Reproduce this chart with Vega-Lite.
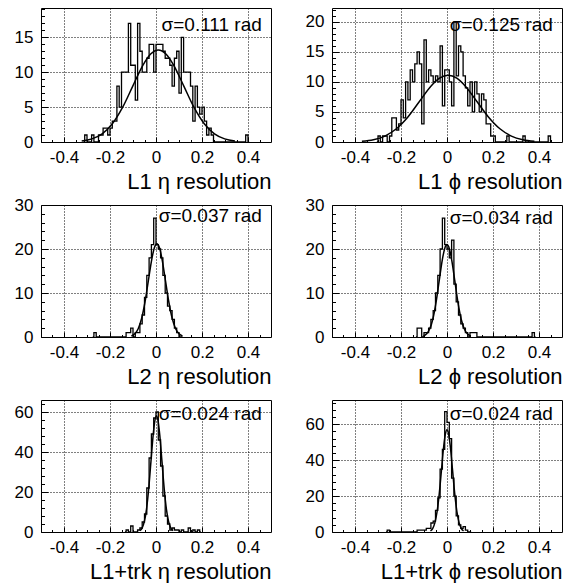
{
"$schema":"https://vega.github.io/schema/vega-lite/v6.json",
"background":"white",
"padding":{"left":13,"top":7,"right":0,"bottom":0},
"bounds":"flush",
"columns":2,
"spacing":{"row":63,"column":61},
"config":{"font":"Liberation Sans","view":{"stroke":"black","strokeWidth":1},
"axis":{"labelFont":"Liberation Sans","titleFont":"Liberation Sans","labelColor":"black","titleColor":"black","tickColor":"black","tickWidth":1,"gridColor":"black","gridOpacity":1,"gridDash":[1,2],"gridWidth":1,"labelFlush":false,"labelOverlap":false,"domain":false}},
"datasets":{
"h1":[{"x":-0.315,"n":0},{"x":-0.305,"n":1},{"x":-0.295,"n":0},{"x":-0.285,"n":0},{"x":-0.275,"n":1},{"x":-0.265,"n":0},{"x":-0.255,"n":0},{"x":-0.245,"n":1},{"x":-0.235,"n":1},{"x":-0.225,"n":2},{"x":-0.215,"n":2},{"x":-0.205,"n":1},{"x":-0.195,"n":2},{"x":-0.185,"n":3},{"x":-0.175,"n":3},{"x":-0.165,"n":8},{"x":-0.155,"n":5},{"x":-0.145,"n":10},{"x":-0.135,"n":10},{"x":-0.125,"n":10},{"x":-0.115,"n":17},{"x":-0.105,"n":11},{"x":-0.095,"n":11},{"x":-0.085,"n":6},{"x":-0.075,"n":17},{"x":-0.065,"n":13},{"x":-0.055,"n":10},{"x":-0.045,"n":10},{"x":-0.035,"n":12},{"x":-0.025,"n":14},{"x":-0.015,"n":14},{"x":-0.005,"n":10},{"x":0.005,"n":14},{"x":0.015,"n":14},{"x":0.025,"n":14},{"x":0.035,"n":13},{"x":0.045,"n":12},{"x":0.055,"n":12},{"x":0.065,"n":11},{"x":0.075,"n":8},{"x":0.085,"n":12},{"x":0.095,"n":13},{"x":0.105,"n":7},{"x":0.115,"n":15},{"x":0.125,"n":10},{"x":0.135,"n":10},{"x":0.145,"n":10},{"x":0.155,"n":8},{"x":0.165,"n":3},{"x":0.175,"n":8},{"x":0.185,"n":5},{"x":0.195,"n":4},{"x":0.205,"n":5},{"x":0.215,"n":3},{"x":0.225,"n":1},{"x":0.235,"n":2},{"x":0.245,"n":1},{"x":0.255,"n":0},{"x":0.265,"n":0},{"x":0.275,"n":0},{"x":0.285,"n":0},{"x":0.295,"n":0},{"x":0.305,"n":0},{"x":0.315,"n":0},{"x":0.325,"n":0},{"x":0.335,"n":0},{"x":0.345,"n":0},{"x":0.355,"n":0},{"x":0.365,"n":0},{"x":0.375,"n":0},{"x":0.385,"n":0},{"x":0.395,"n":1},{"x":0.405,"n":0}],
"h2":[{"x":-0.305,"n":0},{"x":-0.295,"n":1},{"x":-0.285,"n":0},{"x":-0.275,"n":1},{"x":-0.265,"n":1},{"x":-0.255,"n":0},{"x":-0.245,"n":1},{"x":-0.235,"n":4},{"x":-0.225,"n":4},{"x":-0.215,"n":2},{"x":-0.205,"n":3},{"x":-0.195,"n":7},{"x":-0.185,"n":4},{"x":-0.175,"n":10},{"x":-0.165,"n":7},{"x":-0.155,"n":12},{"x":-0.145,"n":10},{"x":-0.135,"n":13},{"x":-0.125,"n":15},{"x":-0.115,"n":13},{"x":-0.105,"n":3},{"x":-0.095,"n":17},{"x":-0.085,"n":10},{"x":-0.075,"n":12},{"x":-0.065,"n":11},{"x":-0.055,"n":10},{"x":-0.045,"n":11},{"x":-0.035,"n":10},{"x":-0.025,"n":16},{"x":-0.015,"n":6},{"x":-0.005,"n":12},{"x":0.005,"n":12},{"x":0.015,"n":10},{"x":0.025,"n":6},{"x":0.035,"n":20},{"x":0.045,"n":11},{"x":0.055,"n":16},{"x":0.065,"n":15},{"x":0.075,"n":11},{"x":0.085,"n":9},{"x":0.095,"n":6},{"x":0.105,"n":10},{"x":0.115,"n":5},{"x":0.125,"n":10},{"x":0.135,"n":8},{"x":0.145,"n":5},{"x":0.155,"n":8},{"x":0.165,"n":7},{"x":0.175,"n":3},{"x":0.185,"n":3},{"x":0.195,"n":1},{"x":0.205,"n":1},{"x":0.215,"n":0},{"x":0.225,"n":0},{"x":0.235,"n":0},{"x":0.245,"n":0},{"x":0.255,"n":0},{"x":0.265,"n":1},{"x":0.275,"n":0},{"x":0.285,"n":0},{"x":0.295,"n":0},{"x":0.305,"n":0},{"x":0.315,"n":0},{"x":0.325,"n":0},{"x":0.335,"n":1},{"x":0.345,"n":0},{"x":0.355,"n":0},{"x":0.365,"n":0},{"x":0.375,"n":0},{"x":0.385,"n":0},{"x":0.395,"n":0},{"x":0.405,"n":0},{"x":0.415,"n":0},{"x":0.425,"n":0},{"x":0.435,"n":0},{"x":0.445,"n":1},{"x":0.455,"n":0}],
"h3":[{"x":-0.275,"n":0},{"x":-0.265,"n":1},{"x":-0.255,"n":0},{"x":-0.245,"n":0},{"x":-0.235,"n":0},{"x":-0.225,"n":0},{"x":-0.215,"n":0},{"x":-0.205,"n":0},{"x":-0.195,"n":0},{"x":-0.185,"n":0},{"x":-0.175,"n":0},{"x":-0.165,"n":0},{"x":-0.155,"n":0},{"x":-0.145,"n":0},{"x":-0.135,"n":0},{"x":-0.125,"n":1},{"x":-0.115,"n":1},{"x":-0.105,"n":2},{"x":-0.095,"n":0},{"x":-0.085,"n":1},{"x":-0.075,"n":1},{"x":-0.065,"n":3},{"x":-0.055,"n":5},{"x":-0.045,"n":9},{"x":-0.035,"n":14},{"x":-0.025,"n":18},{"x":-0.015,"n":21},{"x":-0.005,"n":27},{"x":0.005,"n":21},{"x":0.015,"n":20},{"x":0.025,"n":18},{"x":0.035,"n":14},{"x":0.045,"n":10},{"x":0.055,"n":7},{"x":0.065,"n":6},{"x":0.075,"n":4},{"x":0.085,"n":2},{"x":0.095,"n":1},{"x":0.105,"n":0},{"x":0.115,"n":0}],
"h4":[{"x":-0.135,"n":0},{"x":-0.125,"n":2},{"x":-0.115,"n":2},{"x":-0.105,"n":0},{"x":-0.095,"n":1},{"x":-0.085,"n":1},{"x":-0.075,"n":2},{"x":-0.065,"n":4},{"x":-0.055,"n":6},{"x":-0.045,"n":10},{"x":-0.035,"n":14},{"x":-0.025,"n":20},{"x":-0.015,"n":27},{"x":-0.005,"n":21},{"x":0.005,"n":20},{"x":0.015,"n":18},{"x":0.025,"n":22},{"x":0.035,"n":12},{"x":0.045,"n":8},{"x":0.055,"n":5},{"x":0.065,"n":3},{"x":0.075,"n":2},{"x":0.085,"n":1},{"x":0.095,"n":0},{"x":0.105,"n":1},{"x":0.115,"n":1},{"x":0.125,"n":1},{"x":0.135,"n":0},{"x":0.145,"n":0},{"x":0.155,"n":0},{"x":0.165,"n":0},{"x":0.175,"n":0},{"x":0.185,"n":0},{"x":0.195,"n":0},{"x":0.205,"n":0},{"x":0.215,"n":0},{"x":0.225,"n":0},{"x":0.235,"n":0},{"x":0.245,"n":0},{"x":0.255,"n":0},{"x":0.265,"n":0},{"x":0.275,"n":0},{"x":0.285,"n":0},{"x":0.295,"n":0},{"x":0.305,"n":0},{"x":0.315,"n":0},{"x":0.325,"n":0},{"x":0.335,"n":0},{"x":0.345,"n":0},{"x":0.355,"n":0},{"x":0.365,"n":0},{"x":0.375,"n":1},{"x":0.385,"n":0}],
"h5":[{"x":-0.135,"n":0},{"x":-0.125,"n":1},{"x":-0.115,"n":0},{"x":-0.105,"n":3},{"x":-0.095,"n":0},{"x":-0.085,"n":0},{"x":-0.075,"n":1},{"x":-0.065,"n":2},{"x":-0.055,"n":5},{"x":-0.045,"n":9},{"x":-0.035,"n":22},{"x":-0.025,"n":37},{"x":-0.015,"n":49},{"x":-0.005,"n":57},{"x":0.005,"n":60},{"x":0.015,"n":46},{"x":0.025,"n":33},{"x":0.035,"n":18},{"x":0.045,"n":8},{"x":0.055,"n":4},{"x":0.065,"n":1},{"x":0.075,"n":2},{"x":0.085,"n":1},{"x":0.095,"n":1},{"x":0.105,"n":0},{"x":0.115,"n":1},{"x":0.125,"n":0},{"x":0.135,"n":0},{"x":0.145,"n":2},{"x":0.155,"n":0},{"x":0.165,"n":1},{"x":0.175,"n":0},{"x":0.185,"n":1},{"x":0.195,"n":0}],
"h6":[{"x":-0.265,"n":0},{"x":-0.255,"n":1},{"x":-0.245,"n":0},{"x":-0.235,"n":0},{"x":-0.225,"n":0},{"x":-0.215,"n":0},{"x":-0.205,"n":0},{"x":-0.195,"n":0},{"x":-0.185,"n":0},{"x":-0.175,"n":0},{"x":-0.165,"n":0},{"x":-0.155,"n":0},{"x":-0.145,"n":0},{"x":-0.135,"n":0},{"x":-0.125,"n":1},{"x":-0.115,"n":1},{"x":-0.105,"n":1},{"x":-0.095,"n":1},{"x":-0.085,"n":2},{"x":-0.075,"n":2},{"x":-0.065,"n":5},{"x":-0.055,"n":6},{"x":-0.045,"n":12},{"x":-0.035,"n":19},{"x":-0.025,"n":35},{"x":-0.015,"n":46},{"x":-0.005,"n":67},{"x":0.005,"n":61},{"x":0.015,"n":52},{"x":0.025,"n":30},{"x":0.035,"n":20},{"x":0.045,"n":9},{"x":0.055,"n":4},{"x":0.065,"n":2},{"x":0.075,"n":3},{"x":0.085,"n":1},{"x":0.095,"n":0},{"x":0.105,"n":0}],
"f1":[{"x":-0.323,"y":0.147},{"x":-0.2786,"y":0.449},{"x":-0.2342,"y":1.173},{"x":-0.1898,"y":2.612},{"x":-0.1454,"y":4.954},{"x":-0.101,"y":8.006},{"x":-0.0566,"y":11.026},{"x":-0.0233,"y":12.619},{"x":0.01,"y":13.2},{"x":0.0433,"y":12.619},{"x":0.0766,"y":11.026},{"x":0.121,"y":8.006},{"x":0.1654,"y":4.954},{"x":0.2098,"y":2.612},{"x":0.2542,"y":1.173},{"x":0.2986,"y":0.449},{"x":0.343,"y":0.147}],
"f2":[{"x":-0.37,"y":0.123},{"x":-0.32,"y":0.377},{"x":-0.27,"y":0.987},{"x":-0.22,"y":2.197},{"x":-0.17,"y":4.166},{"x":-0.12,"y":6.732},{"x":-0.07,"y":9.272},{"x":-0.0325,"y":10.612},{"x":0.005,"y":11.1},{"x":0.0425,"y":10.612},{"x":0.08,"y":9.272},{"x":0.13,"y":6.732},{"x":0.18,"y":4.166},{"x":0.23,"y":2.197},{"x":0.28,"y":0.987},{"x":0.33,"y":0.377},{"x":0.38,"y":0.123}],
"f3":[{"x":-0.107,"y":0.235},{"x":-0.0922,"y":0.721},{"x":-0.0774,"y":1.885},{"x":-0.0626,"y":4.195},{"x":-0.0478,"y":7.956},{"x":-0.033,"y":12.858},{"x":-0.0182,"y":17.708},{"x":-0.0071,"y":20.267},{"x":0.004,"y":21.2},{"x":0.0151,"y":20.267},{"x":0.0262,"y":17.708},{"x":0.041,"y":12.858},{"x":0.0558,"y":7.956},{"x":0.0706,"y":4.195},{"x":0.0854,"y":1.885},{"x":0.1002,"y":0.721},{"x":0.115,"y":0.235}],
"f4":[{"x":-0.102,"y":0.233},{"x":-0.0884,"y":0.714},{"x":-0.0748,"y":1.867},{"x":-0.0612,"y":4.156},{"x":-0.0476,"y":7.881},{"x":-0.034,"y":12.737},{"x":-0.0204,"y":17.541},{"x":-0.0102,"y":20.076},{"x":0,"y":21},{"x":0.0102,"y":20.076},{"x":0.0204,"y":17.541},{"x":0.034,"y":12.737},{"x":0.0476,"y":7.881},{"x":0.0612,"y":4.156},{"x":0.0748,"y":1.867},{"x":0.0884,"y":0.714},{"x":0.102,"y":0.233}],
"f5":[{"x":-0.07,"y":0.644},{"x":-0.0604,"y":1.972},{"x":-0.0508,"y":5.156},{"x":-0.0412,"y":11.478},{"x":-0.0316,"y":21.767},{"x":-0.022,"y":35.177},{"x":-0.0124,"y":48.447},{"x":-0.0052,"y":55.448},{"x":0.002,"y":58},{"x":0.0092,"y":55.448},{"x":0.0164,"y":48.447},{"x":0.026,"y":35.177},{"x":0.0356,"y":21.767},{"x":0.0452,"y":11.478},{"x":0.0548,"y":5.156},{"x":0.0644,"y":1.972},{"x":0.074,"y":0.644}],
"f6":[{"x":-0.072,"y":0.633},{"x":-0.0624,"y":1.938},{"x":-0.0528,"y":5.067},{"x":-0.0432,"y":11.28},{"x":-0.0336,"y":21.392},{"x":-0.024,"y":34.571},{"x":-0.0144,"y":47.612},{"x":-0.0072,"y":54.492},{"x":0,"y":57},{"x":0.0072,"y":54.492},{"x":0.0144,"y":47.612},{"x":0.024,"y":34.571},{"x":0.0336,"y":21.392},{"x":0.0432,"y":11.28},{"x":0.0528,"y":5.067},{"x":0.0624,"y":1.938},{"x":0.072,"y":0.633}]
},
"concat":[
{"width":230,"height":134,"resolve":{"axis":{"x":"independent","y":"independent"}},"layer":[
{"data":{"name":"h1"},"mark":{"type":"line","interpolate":"step","color":"black","strokeWidth":1.3},"encoding":{
"x":{"field":"x","type":"quantitative","scale":{"domain":[-0.5,0.5],"nice":false,"zero":false},"axis":{"orient":"bottom","values":[-0.4,-0.2,0,0.2,0.4],"labelExpr":"''+datum.value","ticks":false,"grid":true,"labelPadding":7,"labelFontSize":17,"title":"L1 η resolution","titleAnchor":"end","titleFontSize":22,"titleFontWeight":"normal","titlePadding":6}},
"y":{"field":"n","type":"quantitative","scale":{"domain":[0,19.2],"nice":false},"axis":{"orient":"left","values":[0,5,10,15],"ticks":false,"grid":true,"labelPadding":8,"labelFontSize":17,"title":null}}}},
{"data":{"name":"f1"},"mark":{"type":"line","interpolate":"monotone","color":"black","strokeWidth":1.5},"encoding":{
"x":{"field":"x","type":"quantitative","scale":{"domain":[-0.5,0.5],"nice":false,"zero":false},"axis":{"orient":"bottom","values":[-0.4,-0.2,0,0.2,0.4],"labels":false,"grid":false,"ticks":true,"tickSize":-5,"title":null}},
"y":{"field":"y","type":"quantitative","scale":{"domain":[0,19.2],"nice":false},"axis":{"orient":"left","values":[0,5,10,15],"labels":false,"grid":false,"ticks":true,"tickSize":-7,"title":null}}}},
{"data":{"values":[{"x":0.46,"y":16.7,"t":"σ=0.111 rad"}]},"mark":{"type":"text","align":"right","baseline":"middle","fontSize":19,"font":"Liberation Sans","color":"black"},"encoding":{
"x":{"field":"x","type":"quantitative","scale":{"domain":[-0.5,0.5],"nice":false,"zero":false},"axis":{"orient":"bottom","values":[-0.45,-0.35,-0.3,-0.25,-0.15,-0.1,-0.05,0.05,0.1,0.15,0.25,0.3,0.35,0.45],"labels":false,"grid":false,"ticks":true,"tickSize":-2.5,"title":null}},
"y":{"field":"y","type":"quantitative","scale":{"domain":[0,19.2],"nice":false},"axis":{"orient":"left","values":[1,2,3,4,6,7,8,9,11,12,13,14,16,17,18,19],"labels":false,"grid":false,"ticks":true,"tickSize":-3.5,"title":null}},
"text":{"field":"t"}}}
]},
{"width":230,"height":134,"resolve":{"axis":{"x":"independent","y":"independent"}},"layer":[
{"data":{"name":"h2"},"mark":{"type":"line","interpolate":"step","color":"black","strokeWidth":1.3},"encoding":{
"x":{"field":"x","type":"quantitative","scale":{"domain":[-0.5,0.5],"nice":false,"zero":false},"axis":{"orient":"bottom","values":[-0.4,-0.2,0,0.2,0.4],"labelExpr":"''+datum.value","ticks":false,"grid":true,"labelPadding":7,"labelFontSize":17,"title":"L1 ϕ resolution","titleAnchor":"end","titleFontSize":22,"titleFontWeight":"normal","titlePadding":6}},
"y":{"field":"n","type":"quantitative","scale":{"domain":[0,22.3],"nice":false},"axis":{"orient":"left","values":[0,5,10,15,20],"ticks":false,"grid":true,"labelPadding":8,"labelFontSize":17,"title":null}}}},
{"data":{"name":"f2"},"mark":{"type":"line","interpolate":"monotone","color":"black","strokeWidth":1.5},"encoding":{
"x":{"field":"x","type":"quantitative","scale":{"domain":[-0.5,0.5],"nice":false,"zero":false},"axis":{"orient":"bottom","values":[-0.4,-0.2,0,0.2,0.4],"labels":false,"grid":false,"ticks":true,"tickSize":-5,"title":null}},
"y":{"field":"y","type":"quantitative","scale":{"domain":[0,22.3],"nice":false},"axis":{"orient":"left","values":[0,5,10,15,20],"labels":false,"grid":false,"ticks":true,"tickSize":-7,"title":null}}}},
{"data":{"values":[{"x":0.46,"y":19.4,"t":"σ=0.125 rad"}]},"mark":{"type":"text","align":"right","baseline":"middle","fontSize":19,"font":"Liberation Sans","color":"black"},"encoding":{
"x":{"field":"x","type":"quantitative","scale":{"domain":[-0.5,0.5],"nice":false,"zero":false},"axis":{"orient":"bottom","values":[-0.45,-0.35,-0.3,-0.25,-0.15,-0.1,-0.05,0.05,0.1,0.15,0.25,0.3,0.35,0.45],"labels":false,"grid":false,"ticks":true,"tickSize":-2.5,"title":null}},
"y":{"field":"y","type":"quantitative","scale":{"domain":[0,22.3],"nice":false},"axis":{"orient":"left","values":[1,2,3,4,6,7,8,9,11,12,13,14,16,17,18,19,21,22],"labels":false,"grid":false,"ticks":true,"tickSize":-3.5,"title":null}},
"text":{"field":"t"}}}
]},
{"width":230,"height":132,"resolve":{"axis":{"x":"independent","y":"independent"}},"layer":[
{"data":{"name":"h3"},"mark":{"type":"line","interpolate":"step","color":"black","strokeWidth":1.3},"encoding":{
"x":{"field":"x","type":"quantitative","scale":{"domain":[-0.5,0.5],"nice":false,"zero":false},"axis":{"orient":"bottom","values":[-0.4,-0.2,0,0.2,0.4],"labelExpr":"''+datum.value","ticks":false,"grid":true,"labelPadding":7,"labelFontSize":17,"title":"L2 η resolution","titleAnchor":"end","titleFontSize":22,"titleFontWeight":"normal","titlePadding":6}},
"y":{"field":"n","type":"quantitative","scale":{"domain":[0,30],"nice":false},"axis":{"orient":"left","values":[0,10,20,30],"ticks":false,"grid":true,"labelPadding":8,"labelFontSize":17,"title":null}}}},
{"data":{"name":"f3"},"mark":{"type":"line","interpolate":"monotone","color":"black","strokeWidth":1.5},"encoding":{
"x":{"field":"x","type":"quantitative","scale":{"domain":[-0.5,0.5],"nice":false,"zero":false},"axis":{"orient":"bottom","values":[-0.4,-0.2,0,0.2,0.4],"labels":false,"grid":false,"ticks":true,"tickSize":-5,"title":null}},
"y":{"field":"y","type":"quantitative","scale":{"domain":[0,30],"nice":false},"axis":{"orient":"left","values":[0,10,20],"labels":false,"grid":false,"ticks":true,"tickSize":-7,"title":null}}}},
{"data":{"values":[{"x":0.46,"y":27.5,"t":"σ=0.037 rad"}]},"mark":{"type":"text","align":"right","baseline":"middle","fontSize":19,"font":"Liberation Sans","color":"black"},"encoding":{
"x":{"field":"x","type":"quantitative","scale":{"domain":[-0.5,0.5],"nice":false,"zero":false},"axis":{"orient":"bottom","values":[-0.45,-0.35,-0.3,-0.25,-0.15,-0.1,-0.05,0.05,0.1,0.15,0.25,0.3,0.35,0.45],"labels":false,"grid":false,"ticks":true,"tickSize":-2.5,"title":null}},
"y":{"field":"y","type":"quantitative","scale":{"domain":[0,30],"nice":false},"axis":{"orient":"left","values":[2,4,6,8,12,14,16,18,22,24,26,28],"labels":false,"grid":false,"ticks":true,"tickSize":-3.5,"title":null}},
"text":{"field":"t"}}}
]},
{"width":230,"height":132,"resolve":{"axis":{"x":"independent","y":"independent"}},"layer":[
{"data":{"name":"h4"},"mark":{"type":"line","interpolate":"step","color":"black","strokeWidth":1.3},"encoding":{
"x":{"field":"x","type":"quantitative","scale":{"domain":[-0.5,0.5],"nice":false,"zero":false},"axis":{"orient":"bottom","values":[-0.4,-0.2,0,0.2,0.4],"labelExpr":"''+datum.value","ticks":false,"grid":true,"labelPadding":7,"labelFontSize":17,"title":"L2 ϕ resolution","titleAnchor":"end","titleFontSize":22,"titleFontWeight":"normal","titlePadding":6}},
"y":{"field":"n","type":"quantitative","scale":{"domain":[0,30],"nice":false},"axis":{"orient":"left","values":[0,10,20,30],"ticks":false,"grid":true,"labelPadding":8,"labelFontSize":17,"title":null}}}},
{"data":{"name":"f4"},"mark":{"type":"line","interpolate":"monotone","color":"black","strokeWidth":1.5},"encoding":{
"x":{"field":"x","type":"quantitative","scale":{"domain":[-0.5,0.5],"nice":false,"zero":false},"axis":{"orient":"bottom","values":[-0.4,-0.2,0,0.2,0.4],"labels":false,"grid":false,"ticks":true,"tickSize":-5,"title":null}},
"y":{"field":"y","type":"quantitative","scale":{"domain":[0,30],"nice":false},"axis":{"orient":"left","values":[0,10,20],"labels":false,"grid":false,"ticks":true,"tickSize":-7,"title":null}}}},
{"data":{"values":[{"x":0.46,"y":27,"t":"σ=0.034 rad"}]},"mark":{"type":"text","align":"right","baseline":"middle","fontSize":19,"font":"Liberation Sans","color":"black"},"encoding":{
"x":{"field":"x","type":"quantitative","scale":{"domain":[-0.5,0.5],"nice":false,"zero":false},"axis":{"orient":"bottom","values":[-0.45,-0.35,-0.3,-0.25,-0.15,-0.1,-0.05,0.05,0.1,0.15,0.25,0.3,0.35,0.45],"labels":false,"grid":false,"ticks":true,"tickSize":-2.5,"title":null}},
"y":{"field":"y","type":"quantitative","scale":{"domain":[0,30],"nice":false},"axis":{"orient":"left","values":[2,4,6,8,12,14,16,18,22,24,26,28],"labels":false,"grid":false,"ticks":true,"tickSize":-3.5,"title":null}},
"text":{"field":"t"}}}
]},
{"width":230,"height":132,"resolve":{"axis":{"x":"independent","y":"independent"}},"layer":[
{"data":{"name":"h5"},"mark":{"type":"line","interpolate":"step","color":"black","strokeWidth":1.3},"encoding":{
"x":{"field":"x","type":"quantitative","scale":{"domain":[-0.5,0.5],"nice":false,"zero":false},"axis":{"orient":"bottom","values":[-0.4,-0.2,0,0.2,0.4],"labelExpr":"''+datum.value","ticks":false,"grid":true,"labelPadding":7,"labelFontSize":17,"title":"L1+trk η resolution","titleAnchor":"end","titleFontSize":22,"titleFontWeight":"normal","titlePadding":6}},
"y":{"field":"n","type":"quantitative","scale":{"domain":[0,66],"nice":false},"axis":{"orient":"left","values":[0,20,40,60],"ticks":false,"grid":true,"labelPadding":8,"labelFontSize":17,"title":null}}}},
{"data":{"name":"f5"},"mark":{"type":"line","interpolate":"monotone","color":"black","strokeWidth":1.5},"encoding":{
"x":{"field":"x","type":"quantitative","scale":{"domain":[-0.5,0.5],"nice":false,"zero":false},"axis":{"orient":"bottom","values":[-0.4,-0.2,0,0.2,0.4],"labels":false,"grid":false,"ticks":true,"tickSize":-5,"title":null}},
"y":{"field":"y","type":"quantitative","scale":{"domain":[0,66],"nice":false},"axis":{"orient":"left","values":[0,20,40,60],"labels":false,"grid":false,"ticks":true,"tickSize":-7,"title":null}}}},
{"data":{"values":[{"x":0.46,"y":59.2,"t":"σ=0.024 rad"}]},"mark":{"type":"text","align":"right","baseline":"middle","fontSize":19,"font":"Liberation Sans","color":"black"},"encoding":{
"x":{"field":"x","type":"quantitative","scale":{"domain":[-0.5,0.5],"nice":false,"zero":false},"axis":{"orient":"bottom","values":[-0.45,-0.35,-0.3,-0.25,-0.15,-0.1,-0.05,0.05,0.1,0.15,0.25,0.3,0.35,0.45],"labels":false,"grid":false,"ticks":true,"tickSize":-2.5,"title":null}},
"y":{"field":"y","type":"quantitative","scale":{"domain":[0,66],"nice":false},"axis":{"orient":"left","values":[4,8,12,16,24,28,32,36,44,48,52,56,64],"labels":false,"grid":false,"ticks":true,"tickSize":-3.5,"title":null}},
"text":{"field":"t"}}}
]},
{"width":230,"height":132,"resolve":{"axis":{"x":"independent","y":"independent"}},"layer":[
{"data":{"name":"h6"},"mark":{"type":"line","interpolate":"step","color":"black","strokeWidth":1.3},"encoding":{
"x":{"field":"x","type":"quantitative","scale":{"domain":[-0.5,0.5],"nice":false,"zero":false},"axis":{"orient":"bottom","values":[-0.4,-0.2,0,0.2,0.4],"labelExpr":"''+datum.value","ticks":false,"grid":true,"labelPadding":7,"labelFontSize":17,"title":"L1+trk ϕ resolution","titleAnchor":"end","titleFontSize":22,"titleFontWeight":"normal","titlePadding":6}},
"y":{"field":"n","type":"quantitative","scale":{"domain":[0,73.5],"nice":false},"axis":{"orient":"left","values":[0,20,40,60],"ticks":false,"grid":true,"labelPadding":8,"labelFontSize":17,"title":null}}}},
{"data":{"name":"f6"},"mark":{"type":"line","interpolate":"monotone","color":"black","strokeWidth":1.5},"encoding":{
"x":{"field":"x","type":"quantitative","scale":{"domain":[-0.5,0.5],"nice":false,"zero":false},"axis":{"orient":"bottom","values":[-0.4,-0.2,0,0.2,0.4],"labels":false,"grid":false,"ticks":true,"tickSize":-5,"title":null}},
"y":{"field":"y","type":"quantitative","scale":{"domain":[0,73.5],"nice":false},"axis":{"orient":"left","values":[0,20,40,60],"labels":false,"grid":false,"ticks":true,"tickSize":-7,"title":null}}}},
{"data":{"values":[{"x":0.46,"y":65.8,"t":"σ=0.024 rad"}]},"mark":{"type":"text","align":"right","baseline":"middle","fontSize":19,"font":"Liberation Sans","color":"black"},"encoding":{
"x":{"field":"x","type":"quantitative","scale":{"domain":[-0.5,0.5],"nice":false,"zero":false},"axis":{"orient":"bottom","values":[-0.45,-0.35,-0.3,-0.25,-0.15,-0.1,-0.05,0.05,0.1,0.15,0.25,0.3,0.35,0.45],"labels":false,"grid":false,"ticks":true,"tickSize":-2.5,"title":null}},
"y":{"field":"y","type":"quantitative","scale":{"domain":[0,73.5],"nice":false},"axis":{"orient":"left","values":[4,8,12,16,24,28,32,36,44,48,52,56,64,68,72],"labels":false,"grid":false,"ticks":true,"tickSize":-3.5,"title":null}},
"text":{"field":"t"}}}
]}
]
}
